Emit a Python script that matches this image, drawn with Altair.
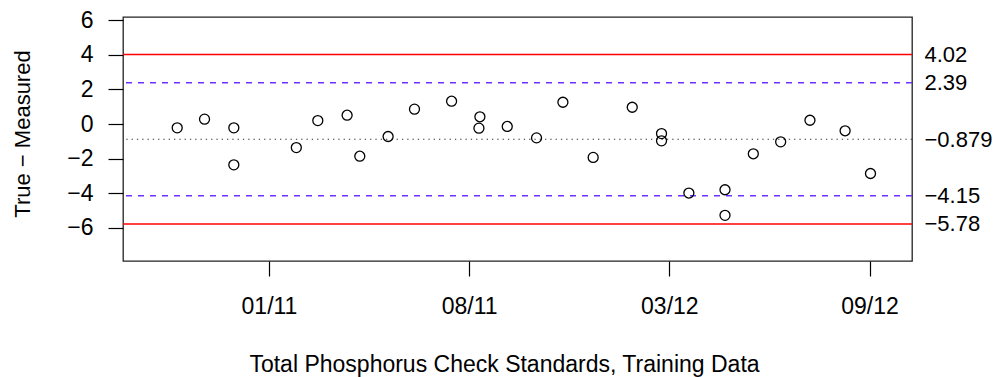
import altair as alt
import pandas as pd

# Check-standard results (True - Measured)
dates = ["2010-10-18", "2010-11-15", "2010-12-15", "2010-12-15", "2011-02-17",
         "2011-03-11", "2011-04-10", "2011-04-23", "2011-05-22", "2011-06-18",
         "2011-07-26", "2011-08-24", "2011-08-23", "2011-09-21", "2011-10-21",
         "2011-11-17", "2011-12-18", "2012-01-27", "2012-02-26", "2012-02-26",
         "2012-03-25", "2012-05-01", "2012-05-01", "2012-05-30", "2012-06-27",
         "2012-07-27", "2012-09-01", "2012-09-27"]
values = [-0.22, 0.28, -0.22, -2.36, -1.36,
          0.20, 0.51, -1.86, -0.72, 0.86,
          1.32, 0.42, -0.24, -0.14, -0.80,
          1.26, -1.93, 0.97, -0.55, -0.97,
          -3.99, -3.80, -5.28, -1.72, -1.03,
          0.22, -0.39, -2.86]

# Control limits
control_limits = [4.02, -5.78]
warning_limits = [2.39, -4.15]
center_line = [-0.879]
right_labels = [4.02, 2.39, -0.879, -4.15, -5.78]

y_ticks = [-6, -4, -2, 0, 2, 4, 6]
x_tick_dates = [(2011, 1, 20), (2011, 8, 13), (2012, 3, 5), (2012, 9, 26)]

FONT = "Liberation Sans"
FS = 23

pts = pd.DataFrame({"date": dates, "diff": values})
ctrl = pd.DataFrame({"lim": control_limits})
warn = pd.DataFrame({"lim": warning_limits})
cent = pd.DataFrame({"lim": center_line})

y_scale = alt.Scale(domain=[-7.92, 6.19], nice=False, zero=False)
x_scale = alt.Scale(
    type="utc",
    domain=[alt.DateTime(year=2010, month=8, date=23, hours=12, utc=True),
            alt.DateTime(year=2012, month=11, date=8, hours=12, utc=True)],
    nice=False,
)

x_axis = alt.Axis(
    values=[alt.DateTime(year=y, month=m, date=d, utc=True) for (y, m, d) in x_tick_dates],
    labelExpr="utcFormat(datum.value, '%m/%y')",
    title="Total Phosphorus Check Standards, Training Data",
    tickSize=15, labelPadding=37, labelBaseline="alphabetic",
    titleX=381, titleY=110, titleBaseline="alphabetic", titleAnchor="start",
    titleAlign="center", titleFontSize=23,
    domain=False, grid=False,
)

y_axis = alt.Axis(
    values=y_ticks, format="d",
    title="True \u2212 Measured",
    tickSize=15, labelPadding=15,
    titleX=-94, titleY=116.5, titleAngle=-90, titleBaseline="alphabetic",
    titleAlign="center", titleFontSize=22,
    domain=False, grid=False,
)

right_axis = alt.Axis(
    orient="right", values=right_labels, format=".3r",
    title=None, tickSize=0, ticks=False, labelPadding=12,
    labelFontSize=22,
    domain=False, grid=False, labelAlign="left",
)

points = alt.Chart(pts).mark_point(
    shape="circle", filled=False, size=100, strokeWidth=1.3,
    color="black", opacity=1,
).encode(
    x=alt.X("date:T", scale=x_scale, axis=x_axis),
    y=alt.Y("diff:Q", scale=y_scale, axis=y_axis),
)

red = alt.Chart(ctrl).mark_rule(color="#FF0000", strokeWidth=1.5).encode(
    y=alt.Y("lim:Q", scale=y_scale, axis=right_axis)
)
blue = alt.Chart(warn).mark_rule(color="#6E32FF", strokeWidth=1.5, strokeDash=[6, 6]).encode(
    y=alt.Y("lim:Q", scale=y_scale, axis=None)
)
dotted = alt.Chart(cent).mark_rule(color="#333333", strokeWidth=1.2, strokeDash=[1.3, 4]).encode(
    y=alt.Y("lim:Q", scale=y_scale, axis=None)
)

chart = alt.layer(red, blue, dotted, points).resolve_axis(y="independent").properties(
    width=789, height=244,
    autosize=alt.AutoSizeParams(type="none"),
    padding={"left": 115, "top": 9, "right": 83, "bottom": 117},
    background="white",
).configure_view(
    stroke="#222222", strokeWidth=1.3,
).configure_axis(
    labelFont=FONT, labelFontSize=FS, labelColor="black",
    titleFont=FONT, titleColor="black", titleFontWeight="normal",
    tickColor="black", tickWidth=1.2,
)

chart.save("out.html", embed_options={"renderer": "svg", "actions": False})
